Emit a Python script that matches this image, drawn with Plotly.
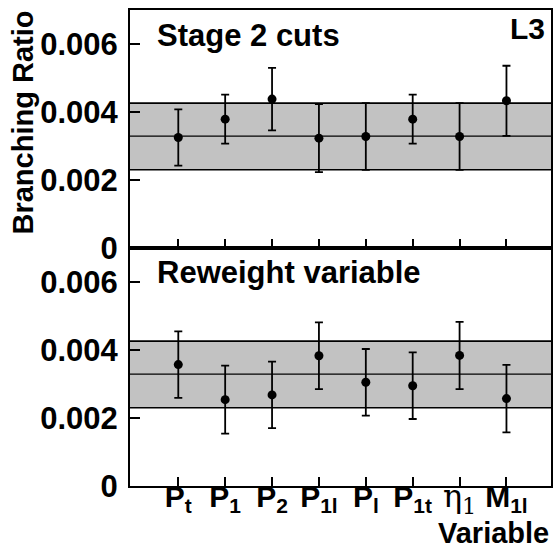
import plotly.graph_objects as go

# Variables used for the branching-ratio determination
variables = ["P<sub>t</sub>", "P<sub>1</sub>", "P<sub>2</sub>", "P<sub>1l</sub>",
             "P<sub>l</sub>", "P<sub>1t</sub>",
             "<span style='font-family:DejaVu Serif;font-weight:normal;font-size:32px'>η<sub>1</sub></span>",
             "M<sub>1l</sub>"]
x_pos = [1, 2, 3, 4, 5, 6, 7, 8]

# Stage 2 cuts: central values and symmetric errors
stage2_br = [0.00325, 0.00379, 0.00438, 0.00323, 0.00328, 0.00379, 0.00328, 0.00433]
stage2_err = [0.00083, 0.00072, 0.00092, 0.00100, 0.00098, 0.00072, 0.00098, 0.00103]

# Reweighted variable: central values and symmetric errors
reweight_br = [0.00357, 0.00254, 0.00268, 0.00383, 0.00305, 0.00295, 0.00384, 0.00257]
reweight_err = [0.00098, 0.00100, 0.00098, 0.00098, 0.00098, 0.00098, 0.00099, 0.00099]

# Reference result: mean and one-sigma band
band_mean = 0.00329
band_low = 0.00230
band_high = 0.00426

y_ticks = [0, 0.002, 0.004, 0.006]
y_tick_text = ["0", "0.002", "0.004", "0.006"]
x_range = [-0.03, 8.95]
y_range = [0, 0.007]

FONT = "Liberation Sans"
BAND_FILL = "#c2c2c2"

fig = go.Figure()


def add_panel(values, errors, xa, ya):
    # shaded band with its edges, then the mean line
    fig.add_trace(go.Scatter(x=x_range, y=[band_low, band_low], mode="lines",
                             line=dict(color="black", width=1.6),
                             xaxis=xa, yaxis=ya, showlegend=False, hoverinfo="skip"))
    fig.add_trace(go.Scatter(x=x_range, y=[band_high, band_high], mode="lines",
                             line=dict(color="black", width=1.6), fill="tonexty",
                             fillcolor=BAND_FILL,
                             xaxis=xa, yaxis=ya, showlegend=False, hoverinfo="skip"))
    fig.add_trace(go.Scatter(x=x_range, y=[band_mean, band_mean], mode="lines",
                             line=dict(color="black", width=1.4),
                             xaxis=xa, yaxis=ya, showlegend=False, hoverinfo="skip"))
    fig.add_trace(go.Scatter(x=x_pos, y=values, mode="markers",
                             marker=dict(color="black", size=9),
                             error_y=dict(type="data", array=errors, visible=True,
                                          color="black", thickness=1.8, width=4),
                             xaxis=xa, yaxis=ya, showlegend=False))


add_panel(stage2_br, stage2_err, "x2", "y2")
add_panel(reweight_br, reweight_err, "x", "y")

axis_common = dict(showline=True, linecolor="black", linewidth=2, mirror=True,
                   ticks="inside", tickcolor="black", tickwidth=1.5,
                   showgrid=False, zeroline=False)
ytick_font = dict(size=31, family=FONT, weight="bold")

fig.update_layout(
    width=555, height=550,
    margin=dict(l=130, r=2, t=10, b=64),
    plot_bgcolor="white", paper_bgcolor="white",
    font=dict(family=FONT, color="black", size=30, weight="bold"),
    xaxis=dict(domain=[0, 1], range=x_range, anchor="y",
               tickvals=x_pos, ticktext=variables, ticklen=9, ticklabelstandoff=-17,
               tickfont=dict(size=30, family=FONT, weight="bold"), **axis_common),
    xaxis2=dict(domain=[0, 1], range=x_range, anchor="y2", matches="x",
                tickvals=x_pos, showticklabels=False, ticklen=9, **axis_common),
    yaxis=dict(domain=[0, 0.5], range=y_range, anchor="x",
               tickvals=y_ticks, ticktext=y_tick_text, ticklen=10, ticklabelstandoff=4,
               tickfont=ytick_font, **axis_common),
    yaxis2=dict(domain=[0.5, 1], range=y_range, anchor="x2",
                tickvals=y_ticks, ticktext=y_tick_text, ticklen=10, ticklabelstandoff=4,
                tickfont=ytick_font, **axis_common),
)

annotations = [
    dict(text="Stage 2 cuts", x=0.059, y=0.947, xanchor="left", yanchor="middle",
         font=dict(size=31)),
    dict(text="L3", x=0.9905, y=0.962, xanchor="right", yanchor="middle",
         font=dict(size=30)),
    dict(text="Reweight variable", x=0.059, y=0.449, xanchor="left", yanchor="middle",
         font=dict(size=31)),
    dict(text="Branching Ratio", x=-0.2553, y=0.7626, xanchor="center", yanchor="middle",
         textangle=-90, font=dict(size=29)),
    dict(text="Variable", x=1.0, y=-0.099, xanchor="right", yanchor="middle",
         font=dict(size=29)),
]
for a in annotations:
    a.update(xref="paper", yref="paper", showarrow=False)
    a["font"].update(family=FONT, color="black", weight="bold")
fig.update_layout(annotations=annotations)

fig.write_html("out.html")
